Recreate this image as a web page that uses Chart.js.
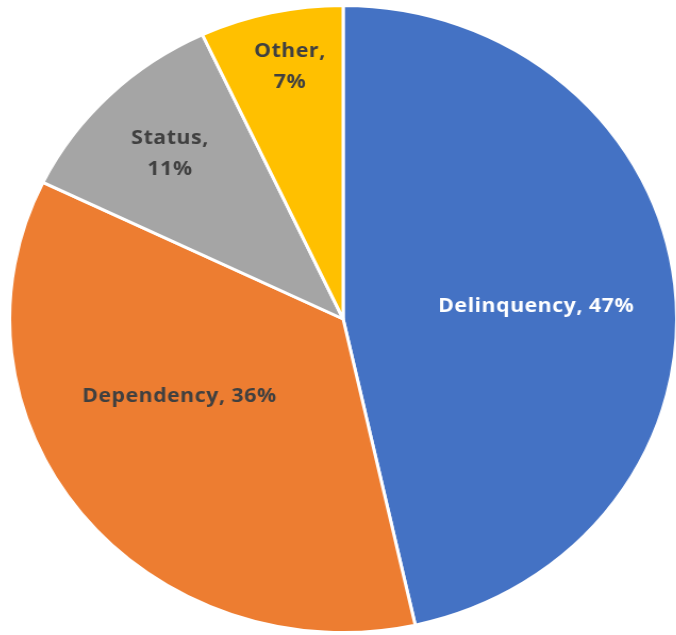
<!DOCTYPE html>
<html>
<head>
<meta charset="utf-8">
<script src="https://cdn.jsdelivr.net/npm/chart.js@4"></script>
<style>
  html, body { margin: 0; padding: 0; background: #fff; overflow: hidden; }
  #wrap {
    position: absolute; left: 8px; top: 4px;
    width: 630px; height: 630px;
    transform: scaleX(1.064); transform-origin: 0 0;
  }
</style>
</head>
<body>
<div id="wrap"><canvas id="pie"></canvas></div>
<script>
const categories = ["Delinquency", "Dependency", "Status", "Other"];
const shares = [47, 36, 11, 7];
const colors = ["#4472C4", "#ED7D31", "#A5A5A5", "#FFC000"];

// label placement inside each slice: fraction along the arc, fraction of radius
const labelAlong = [0.513, 0.59, 0.5, 0.55];
const labelRadius = [0.58, 0.55, 0.74, 0.82];
const labelColor = ["#ffffff", "#404040", "#404040", "#404040"];
const labelLines = [
  [categories[0] + ", " + shares[0] + "%"],
  [categories[1] + ", " + shares[1] + "%"],
  [categories[2] + ",", shares[2] + "%"],
  [categories[3] + ",", shares[3] + "%"]
];

const sliceLabels = {
  id: "sliceLabels",
  afterDatasetsDraw(chart) {
    const ctx = chart.ctx;
    const meta = chart.getDatasetMeta(0);
    ctx.save();
    ctx.font = "bold 20px 'Open Sans', sans-serif";
    ctx.letterSpacing = "0.5px";
    ctx.textAlign = "center";
    ctx.textBaseline = "middle";
    meta.data.forEach((arc, i) => {
      const p = arc.getProps(["x", "y", "startAngle", "endAngle", "outerRadius"], true);
      const a = p.startAngle + (p.endAngle - p.startAngle) * labelAlong[i];
      const r = p.outerRadius * labelRadius[i];
      const cx = p.x + Math.cos(a) * r;
      const cy = p.y + Math.sin(a) * r;
      const lines = labelLines[i];
      const lh = 31;
      ctx.fillStyle = labelColor[i];
      lines.forEach((t, k) => {
        ctx.fillText(t, cx, cy + (k - (lines.length - 1) / 2) * lh);
      });
    });
    ctx.restore();
  }
};

new Chart(document.getElementById("pie"), {
  type: "pie",
  data: {
    labels: categories,
    datasets: [{
      data: shares,
      backgroundColor: colors,
      borderColor: "#ffffff",
      borderWidth: 3
    }]
  },
  options: {
    responsive: true,
    maintainAspectRatio: false,
    animation: false,
    layout: { padding: 0 },
    plugins: {
      legend: { display: false },
      tooltip: { enabled: false }
    }
  },
  plugins: [sliceLabels]
});
</script>
</body>
</html>
